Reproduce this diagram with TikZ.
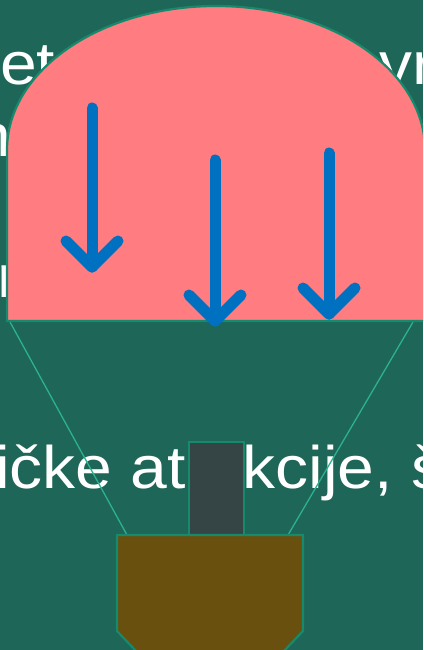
\documentclass[tikz,border=0pt]{standalone}
\usepackage{fontspec}
\setmainfont{Liberation Sans}

\definecolor{slidebg}{HTML}{1E6658}
\definecolor{envelope}{HTML}{FF7C80}
\definecolor{edgeteal}{HTML}{178A6D}
\definecolor{ropeteal}{HTML}{2BB28E}
\definecolor{fallblue}{HTML}{0070C0}
\definecolor{burnergrey}{HTML}{354444}
\definecolor{basketbrown}{HTML}{6A500E}

% slide text is set slightly wide
\newcommand\slidewide[1]{\scalebox{1.1}[1]{#1}}

\begin{document}
\begin{tikzpicture}[x=1pt,y=-1pt,
  slidetext/.style={text=white,font=\fontsize{60}{72}\selectfont,
    inner sep=0pt,outer sep=0pt,anchor=base west},
  outlined/.style={draw=edgeteal,line width=2.2pt,line join=miter},
  ropeline/.style={draw=ropeteal,line width=1.3pt},
  fall/.style={draw=fallblue,line width=11pt,line cap=round,line join=round}]

\useasboundingbox (0,0) rectangle (423,650);
\fill[slidebg] (0,0) rectangle (423,650);

\begin{scope}
\clip (0,0) rectangle (423,650);

% text lines of the slide, mostly hidden behind the balloon
\node[slidetext] (l1a) at (0,85)    {\slidewide{et}};
\node[slidetext] (l1b) at (379.5,85) {\slidewide{vr}};
\node[slidetext] (l2)  at (-25,157) {\slidewide{n}};
\node[slidetext] (l3)  at (-2.5,297) {\slidewide{n}};
\node[slidetext] (l4a) at (-5,488)  {\slidewide{ičke at}};
\node[slidetext] (l4b) at (242.6,488) {\slidewide{kcije, š}};

% attachment points of the ropes
\coordinate (ropeLtop) at (10,322);
\coordinate (ropeRtop) at (413,322);
\coordinate (ropeLbot) at (127,535);
\coordinate (ropeRbot) at (288,535);
\draw[ropeline] (ropeLtop) -- (ropeLbot);
\draw[ropeline] (ropeRtop) -- (ropeRbot);

% balloon envelope: rectangle with a half-ellipse on top
\filldraw[fill=envelope,outlined] (7,321) -- (7,150)
  arc[start angle=180,end angle=360,x radius=209,y radius=144]
  -- (425,321) -- cycle;

% falling arrows
\draw[fall] (92,108) -- (92,267);
\draw[fall] (66,241) -- (92,267) -- (118,241);
\draw[fall] (215,160) -- (215,321);
\draw[fall] (189,295) -- (215,321) -- (241,295);
\draw[fall] (329,153) -- (329,314);
\draw[fall] (303,288) -- (329,314) -- (355,288);

% burner
\filldraw[fill=burnergrey,outlined] (189,442) rectangle (244,535);

% basket with chamfered lower corners
\filldraw[fill=basketbrown,outlined] (117,535) -- (303,535) -- (303,631)
  -- (283,652) -- (137,652) -- (117,631) -- cycle;
\end{scope}
\end{tikzpicture}
\end{document}
